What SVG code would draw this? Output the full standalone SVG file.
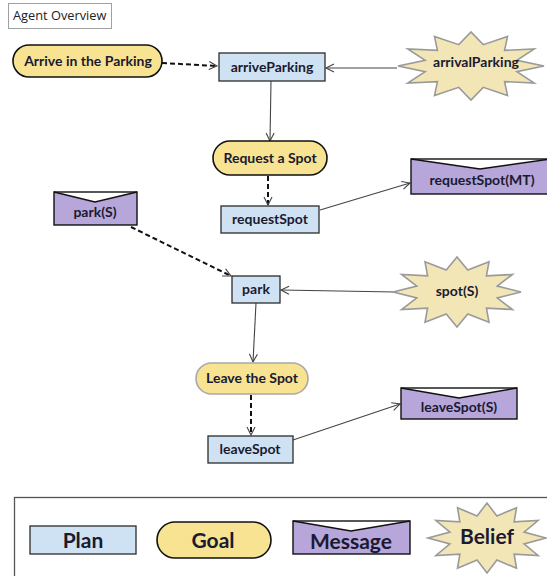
<svg xmlns="http://www.w3.org/2000/svg" xmlns:xlink="http://www.w3.org/1999/xlink" width="547" height="576" viewBox="0 0 547 576">
<style>
.plan{fill:#cfe2f3;stroke:#2b2b2b;stroke-width:1.3}
.goal{fill:#f7e391;stroke:#111;stroke-width:1.6}
.goal2{fill:#f7e391;stroke:#a8a8a8;stroke-width:1.6}
.msg{fill:#b6a6da;stroke:none}
.msgo{fill:none;stroke:#111;stroke-width:1.4}
.belief{fill:#f2e6b6;stroke:#9a9a9a;stroke-width:1.6}
.t{font-family:Lato,"Liberation Sans",sans-serif;font-weight:bold;font-size:14px;fill:#1a1a30;text-anchor:middle}
.lt{font-family:Lato,"Liberation Sans",sans-serif;font-weight:bold;font-size:21px;fill:#1a1a30;text-anchor:middle}
.solid{fill:none;stroke:#444;stroke-width:1.1;marker-end:url(#open)}
.dash{fill:none;stroke:#111;stroke-width:2;stroke-dasharray:5 3;marker-end:url(#open)}
</style>
<defs>
<marker id="open" markerUnits="userSpaceOnUse" markerWidth="12" markerHeight="12" refX="9" refY="5" orient="auto">
<path d="M1,1 L9,5 L1,9" fill="none" stroke="#444" stroke-width="1.1"/>
</marker>
<path id="star" vector-effect="non-scaling-stroke" d="M1,0 L0.628,0.168 L0.866,0.5 L0.46,0.46 L0.5,0.866 L0.168,0.628 L0,1 L-0.168,0.628 L-0.5,0.866 L-0.46,0.46 L-0.866,0.5 L-0.628,0.168 L-1,0 L-0.628,-0.168 L-0.866,-0.5 L-0.46,-0.46 L-0.5,-0.866 L-0.168,-0.628 L0,-1 L0.168,-0.628 L0.5,-0.866 L0.46,-0.46 L0.866,-0.5 L0.628,-0.168 Z"/>
</defs>
<rect x="0" y="0" width="547" height="576" fill="#fff"/>

<g id="title">
<rect x="8.5" y="3.5" width="103" height="25" fill="#fff" stroke="#a0a0a0" stroke-width="1"/>
<text x="13" y="20" font-family="'Open Sans','Liberation Sans',sans-serif" font-size="12.8px" fill="#222">Agent Overview</text>
</g>

<g id="connectors">
<path class="dash" d="M162,63 L217,66"/>
<path class="solid" d="M397,68 L326,68"/>
<path class="solid" d="M271,81 L270,141"/>
<path class="dash" d="M268,176 L268,205"/>
<path class="solid" d="M320,210 L410,183"/>
<path class="dash" d="M131,227 L231,276"/>
<path class="solid" d="M395,292 L281,290"/>
<path class="solid" d="M256,303 L253,362"/>
<path class="dash" d="M251,395 L251,435"/>
<path class="solid" d="M293,440 L400,404"/>
</g>

<g id="goal-arrive">
<rect class="goal" x="13" y="45" width="149" height="32" rx="16" ry="16"/>
<text class="t" x="88" y="66">Arrive in the Parking</text>
</g>
<g id="plan-arriveParking">
<rect class="plan" x="219" y="53" width="106" height="28"/>
<text class="t" x="272" y="72">arriveParking</text>
</g>
<g id="belief-arrivalParking">
<use xlink:href="#star" class="belief" transform="translate(471,66) scale(73,34)"/>
<text class="t" x="476" y="67">arrivalParking</text>
</g>
<g id="goal-request">
<rect class="goal" x="213" y="141" width="114" height="34" rx="17" ry="17"/>
<text class="t" x="270" y="163">Request a Spot</text>
</g>
<g id="plan-requestSpot">
<rect class="plan" x="221" y="206" width="98" height="27"/>
<text class="t" x="270" y="224">requestSpot</text>
</g>
<g id="msg-requestSpotMT">
<path class="msg" d="M411,159 L480,169 L551,159 L551,194 L411,194 Z"/>
<rect class="msgo" x="411" y="159" width="140" height="35"/>
<path class="msgo" d="M411,159 L480,169 L551,159"/>
<text class="t" x="482" y="185">requestSpot(MT)</text>
</g>
<g id="msg-parkS">
<path class="msg" d="M54,192 L95,202 L137,192 L137,225 L54,225 Z"/>
<rect class="msgo" x="54" y="192" width="83" height="33"/>
<path class="msgo" d="M54,192 L95,202 L137,192"/>
<text class="t" x="95" y="217">park(S)</text>
</g>
<g id="plan-park">
<rect class="plan" x="232" y="276" width="48" height="27"/>
<text class="t" x="256" y="294">park</text>
</g>
<g id="belief-spotS">
<use xlink:href="#star" class="belief" transform="translate(457,292) scale(64,35)"/>
<text class="t" x="457" y="296">spot(S)</text>
</g>
<g id="goal-leave">
<rect class="goal2" x="196" y="363" width="112" height="31" rx="15.5" ry="15.5"/>
<text class="t" x="252" y="383">Leave the Spot</text>
</g>
<g id="plan-leaveSpot">
<rect class="plan" x="208" y="436" width="85" height="27"/>
<text class="t" x="250" y="454">leaveSpot</text>
</g>
<g id="msg-leaveSpotS">
<path class="msg" d="M401,388 L459,398 L517,388 L517,419 L401,419 Z"/>
<rect class="msgo" x="401" y="388" width="116" height="31"/>
<path class="msgo" d="M401,388 L459,398 L517,388"/>
<text class="t" x="459" y="412">leaveSpot(S)</text>
</g>

<g id="legend">
<rect x="14.5" y="497.5" width="540" height="90" fill="#fff" stroke="#555" stroke-width="1.3"/>
<g id="legend-plan">
<rect class="plan" x="30" y="526" width="106" height="28"/>
<text class="lt" x="83" y="548">Plan</text>
</g>
<g id="legend-goal">
<rect class="goal" x="157" y="522" width="114" height="36" rx="18" ry="18"/>
<text class="lt" x="213" y="548">Goal</text>
</g>
<g id="legend-message">
<path class="msg" d="M293,521 L351,531 L410,521 L410,554 L293,554 Z"/>
<rect class="msgo" x="293" y="521" width="117" height="33"/>
<path class="msgo" d="M293,521 L351,531 L410,521"/>
<text class="lt" x="351" y="549">Message</text>
</g>
<g id="legend-belief">
<use xlink:href="#star" class="belief" transform="translate(487,538) scale(59,35)"/>
<text class="lt" x="487" y="544">Belief</text>
</g>
</g>
</svg>
